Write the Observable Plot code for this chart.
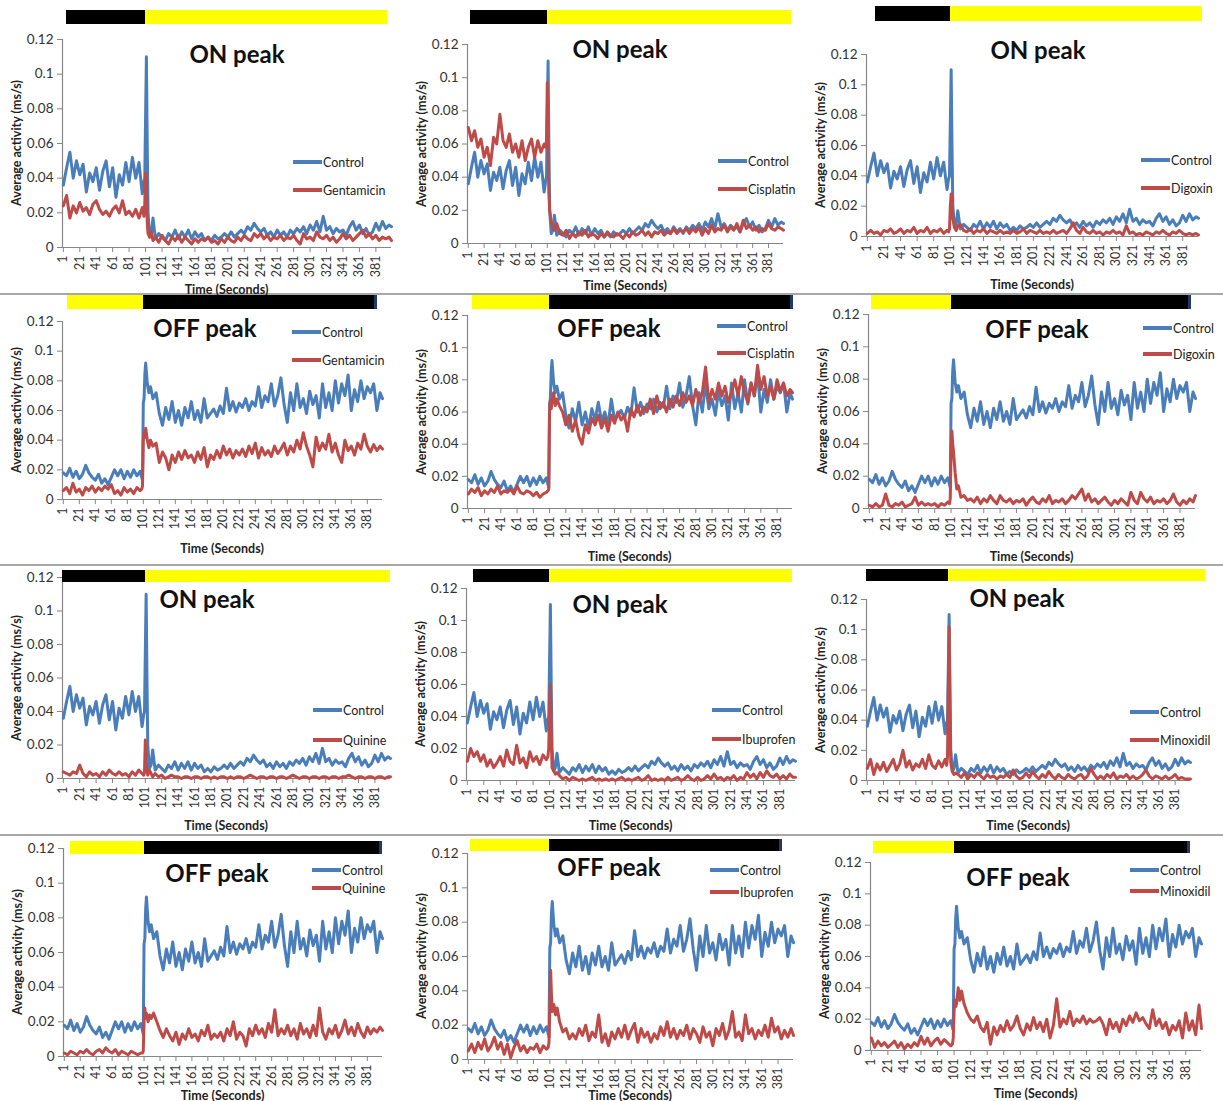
<!DOCTYPE html>
<html>
<head>
<meta charset="utf-8">
<script src="https://cdn.jsdelivr.net/npm/d3@7"></script>
<script src="https://cdn.jsdelivr.net/npm/@observablehq/plot@0.6"></script>
<style>
  html, body { margin: 0; padding: 0; background: #fff; }
  #root { position: relative; width: 1223px; height: 1101px; overflow: hidden; font-family: Lato, "Open Sans", "DejaVu Sans", sans-serif; }
  .abs { position: absolute; }
  .title { font-weight: 700; font-size: 24px; color: #111; transform: translate(-50%, -50%); white-space: nowrap; }
  .ylab { font-weight: 700; font-size: 12.5px; color: #222; transform: translate(-50%, -50%) rotate(-90deg); white-space: nowrap; }
  .xlab { font-weight: 700; font-size: 12.5px; color: #222; transform: translate(-50%, -50%); white-space: nowrap; }
  .legtext { font-size: 12.5px; color: #222; transform: translateY(-50%); white-space: nowrap; }
  .sep { left: 0; width: 1223px; height: 2px; background: #a8a8a8; }
  #root svg g[aria-label="x-axis tick label"] { font-size: 12.5px; }
  #root svg g[aria-label="y-axis tick label"] { font-size: 13.5px; }
</style>
</head>
<body>
<div id="root"></div>
<script>
// ---------------- DATA (seconds, average activity in ms/s) ----------------
const times = [
  1,5,9,13,17,21,25,29,33,37,41,45,49,53,57,61,65,69,73,77,81,85,89,93,97,
  99,100,101,102,103,104,106,108,110,
  113,117,121,125,129,133,137,141,145,149,
  153,157,161,165,169,173,177,181,185,189,
  193,197,201,205,209,213,217,221,225,229,
  233,237,241,245,249,253,257,261,265,269,
  273,277,281,285,289,293,297,301,305,309,
  313,317,321,325,329,333,337,341,345,349,
  353,357,361,365,369,373,377,381,385,389,
  393,397,400
];

const controlOn = [
  .036,.046,.055,.040,.050,.042,.048,.032,.043,.038,.046,.033,.044,.050,.035,.046,.029,.042,.036,.049,.038,.052,.040,.049,.031,
  .038,.040,.075,.110,.060,.020,.006,.008,.017,
  .005,.008,.006,.004,.008,.006,.010,.005,.009,.006,
  .010,.005,.009,.006,.008,.004,.006,.004,.007,.005,
  .006,.008,.006,.009,.006,.008,.010,.008,.012,.010,
  .014,.011,.009,.011,.007,.009,.006,.010,.007,.009,
  .006,.010,.008,.011,.009,.012,.008,.013,.010,.015,
  .009,.018,.010,.012,.008,.011,.009,.010,.007,.012,
  .015,.010,.013,.008,.011,.007,.009,.014,.010,.015,
  .011,.013,.012
];

const controlOff = [
  .018,.016,.021,.015,.019,.014,.017,.023,.018,.015,.013,.017,.011,.014,.010,.015,.020,.016,.020,.014,.019,.015,.020,.016,.019,
  .015,.013,.065,.068,.085,.092,.078,.072,.076,
  .068,.072,.058,.050,.062,.054,.066,.052,.060,.050,
  .062,.055,.066,.054,.060,.052,.068,.055,.058,.061,
  .056,.063,.058,.075,.060,.066,.059,.065,.062,.068,
  .060,.066,.063,.076,.062,.070,.066,.078,.063,.070,
  .082,.064,.052,.072,.060,.078,.062,.068,.058,.073,
  .064,.070,.055,.078,.062,.072,.060,.080,.065,.078,
  .070,.084,.060,.074,.066,.080,.068,.076,.072,.078,
  .060,.072,.068
];

const gentamicinOn = [
  .024,.030,.017,.024,.020,.026,.021,.023,.019,.025,.027,.022,.019,.021,.018,.022,.024,.020,.027,.019,.021,.018,.022,.017,.023,
  .018,.025,.043,.035,.015,.008,.006,.009,.004,
  .006,.003,.007,.004,.002,.006,.004,.007,.003,.006,
  .004,.002,.005,.003,.005,.004,.006,.003,.004,.002,
  .005,.003,.006,.004,.003,.006,.004,.007,.005,.004,
  .008,.006,.008,.005,.007,.004,.006,.005,.007,.004,
  .006,.005,.007,.004,.002,.008,.005,.006,.004,.009,
  .006,.005,.007,.004,.006,.003,.005,.008,.005,.007,
  .004,.006,.008,.010,.006,.008,.005,.007,.004,.006,
  .005,.006,.004
];

const cisplatinOn = [
  .070,.062,.068,.058,.063,.052,.058,.047,.064,.060,.078,.062,.058,.066,.055,.060,.052,.062,.050,.058,.063,.052,.062,.055,.060,
  .058,.062,.097,.060,.030,.020,.013,.010,.008,
  .012,.006,.005,.008,.003,.006,.004,.007,.005,.008,
  .004,.006,.005,.003,.006,.004,.007,.005,.004,.006,
  .005,.003,.006,.004,.007,.005,.006,.008,.005,.007,
  .004,.007,.006,.008,.005,.007,.006,.009,.006,.008,
  .007,.009,.006,.009,.007,.010,.005,.009,.006,.011,
  .007,.009,.008,.011,.007,.010,.008,.012,.007,.014,
  .009,.011,.008,.010,.007,.009,.008,.012,.009,.008,
  .010,.009,.008
];

const digoxinOn = [
  .002,.004,.002,.003,.001,.004,.003,.005,.002,.003,.005,.002,.004,.003,.006,.002,.004,.003,.006,.002,.004,.003,.005,.002,.004,
  .003,.005,.020,.028,.026,.012,.006,.004,.007,
  .008,.004,.003,.005,.002,.004,.003,.005,.002,.004,
  .003,.002,.004,.002,.003,.002,.004,.002,.003,.005,
  .002,.004,.003,.002,.004,.002,.003,.002,.004,.002,
  .003,.004,.002,.005,.009,.004,.002,.006,.003,.002,
  .004,.002,.003,.001,.003,.002,.004,.002,.003,.001,
  .007,.002,.003,.001,.002,.001,.003,.002,.001,.003,
  .002,.004,.002,.001,.003,.002,.004,.002,.001,.002,
  .001,.002,.001
];

const quinineOn = [
  .004,.003,.002,.004,.003,.008,.003,.001,.004,.002,.003,.001,.004,.002,.005,.003,.002,.004,.002,.003,.001,.004,.002,.005,.003,
  .002,.004,.023,.012,.004,.002,.005,.003,.001,
  .003,.001,.002,.000,.001,.002,.001,.001,.000,.001,
  .001,.000,.001,.001,.000,.001,.001,.000,.001,.000,
  .001,.001,.000,.001,.000,.001,.001,.000,.001,.002,
  .001,.000,.001,.001,.000,.001,.001,.000,.001,.001,
  .000,.001,.002,.001,.000,.001,.001,.000,.001,.001,
  .000,.001,.001,.000,.001,.001,.000,.001,.001,.002,
  .001,.000,.001,.001,.000,.001,.001,.000,.001,.001,
  .000,.001,.001
];

const ibuprofenOn = [
  .012,.020,.015,.018,.012,.016,.009,.013,.008,.011,.015,.009,.019,.012,.010,.022,.011,.014,.008,.018,.012,.015,.010,.016,.013,
  .015,.020,.045,.060,.030,.008,.006,.004,.005,
  .003,.001,.002,.000,.002,.001,.000,.001,.000,.001,
  .002,.000,.001,.000,.001,.000,.001,.000,.001,.002,
  .000,.001,.000,.001,.002,.000,.001,.003,.000,.001,
  .000,.001,.000,.002,.000,.001,.002,.000,.001,.003,
  .001,.000,.002,.000,.001,.003,.001,.004,.001,.002,
  .000,.002,.001,.003,.000,.002,.001,.005,.002,.004,
  .001,.005,.002,.006,.003,.002,.004,.001,.003,.001,
  .004,.002,.002
];

const minoxidilOn = [
  .008,.014,.004,.011,.007,.012,.006,.010,.014,.007,.011,.020,.009,.013,.007,.011,.009,.014,.008,.017,.010,.008,.013,.009,.014,
  .010,.016,.060,.102,.050,.012,.006,.004,.005,
  .004,.002,.005,.001,.004,.002,.005,.003,.001,.004,
  .002,.003,.001,.003,.002,.004,.002,.007,.003,.001,
  .002,.005,.002,.006,.003,.001,.004,.002,.006,.003,
  .001,.004,.002,.001,.004,.002,.001,.003,.004,.001,
  .003,.008,.004,.001,.003,.001,.004,.002,.005,.001,
  .003,.002,.004,.001,.003,.001,.002,.004,.007,.003,
  .001,.003,.002,.001,.003,.001,.002,.004,.001,.002,
  .001,.001,.001
];

const gentamicinOff = [
  .006,.008,.004,.011,.005,.007,.003,.008,.006,.009,.005,.008,.006,.009,.007,.010,.004,.006,.003,.008,.005,.007,.004,.008,.006,
  .007,.009,.040,.045,.042,.048,.040,.035,.040,
  .036,.038,.025,.032,.028,.020,.030,.025,.032,.027,
  .033,.028,.030,.025,.032,.027,.035,.022,.030,.027,
  .033,.028,.036,.030,.034,.028,.033,.030,.034,.029,
  .036,.031,.038,.028,.035,.030,.033,.029,.036,.031,
  .034,.038,.030,.036,.032,.040,.034,.045,.036,.030,
  .022,.042,.033,.038,.034,.044,.032,.038,.030,.025,
  .040,.033,.036,.030,.038,.034,.044,.036,.032,.037,
  .033,.036,.034
];

const cisplatinOff = [
  .009,.012,.010,.013,.008,.011,.009,.012,.010,.014,.009,.011,.010,.012,.009,.014,.010,.009,.011,.010,.008,.010,.007,.009,.010,
  .011,.012,.060,.068,.062,.066,.072,.064,.068,
  .064,.060,.052,.058,.048,.055,.045,.040,.052,.047,
  .056,.052,.058,.050,.056,.048,.058,.053,.060,.055,
  .058,.048,.062,.057,.064,.058,.063,.060,.068,.059,
  .070,.062,.066,.060,.068,.063,.070,.064,.072,.066,
  .070,.064,.074,.066,.072,.088,.066,.074,.068,.078,
  .070,.076,.066,.072,.080,.070,.082,.072,.066,.078,
  .070,.089,.074,.082,.070,.076,.068,.080,.073,.078,
  .070,.074,.072
];

const digoxinOff = [
  .002,.001,.003,.001,.002,.009,.002,.001,.003,.002,.004,.001,.002,.003,.007,.002,.004,.002,.003,.002,.003,.001,.003,.002,.004,
  .003,.006,.035,.048,.040,.035,.022,.012,.014,
  .007,.008,.005,.006,.004,.007,.003,.006,.004,.008,
  .005,.003,.008,.005,.004,.006,.003,.005,.004,.006,
  .002,.005,.007,.004,.003,.006,.004,.008,.003,.005,
  .004,.006,.003,.005,.008,.006,.009,.012,.005,.009,
  .004,.006,.003,.005,.007,.004,.002,.005,.003,.006,
  .004,.002,.010,.005,.003,.010,.006,.004,.007,.003,
  .005,.004,.006,.003,.005,.009,.004,.002,.005,.003,
  .006,.004,.008
];

const quinineOff = [
  .002,.001,.003,.002,.001,.003,.002,.004,.002,.001,.003,.004,.002,.005,.003,.002,.004,.001,.003,.002,.001,.003,.002,.001,.002,
  .002,.003,.020,.028,.022,.025,.020,.024,.022,
  .025,.020,.015,.011,.016,.012,.009,.014,.007,.013,
  .010,.016,.011,.013,.009,.015,.012,.018,.010,.013,
  .011,.014,.009,.016,.012,.020,.010,.014,.012,.006,
  .016,.012,.018,.013,.016,.011,.019,.014,.027,.012,
  .016,.013,.018,.012,.016,.010,.019,.013,.016,.011,
  .018,.012,.028,.014,.010,.016,.013,.018,.011,.015,
  .021,.013,.017,.012,.019,.014,.011,.017,.013,.016,
  .014,.017,.015
];

const ibuprofenOff = [
  .005,.009,.004,.010,.006,.012,.005,.008,.013,.006,.010,.003,.009,.001,.007,.011,.005,.008,.004,.007,.006,.009,.004,.008,.006,
  .007,.010,.030,.052,.038,.028,.032,.026,.030,
  .022,.016,.018,.012,.015,.012,.018,.014,.020,.011,
  .016,.013,.026,.010,.015,.008,.016,.012,.018,.013,
  .020,.012,.017,.021,.010,.018,.013,.016,.010,.015,
  .012,.019,.014,.022,.013,.018,.012,.017,.014,.020,
  .012,.018,.015,.010,.019,.013,.016,.008,.018,.014,
  .021,.012,.017,.028,.013,.016,.011,.026,.015,.018,
  .012,.017,.014,.020,.013,.024,.016,.019,.012,.017,
  .013,.018,.014
];

const minoxidilOff = [
  .008,.002,.006,.003,.005,.002,.004,.006,.002,.005,.001,.004,.002,.005,.003,.009,.004,.008,.003,.006,.008,.004,.007,.005,.003,
  .004,.008,.025,.032,.028,.030,.040,.032,.038,
  .030,.024,.020,.018,.022,.015,.012,.018,.004,.015,
  .010,.016,.012,.019,.013,.016,.022,.014,.010,.017,
  .013,.021,.014,.018,.012,.020,.008,.016,.033,.015,
  .020,.017,.025,.016,.020,.018,.022,.017,.020,.018,
  .019,.021,.017,.010,.020,.014,.018,.012,.020,.016,
  .022,.018,.024,.019,.021,.017,.014,.026,.016,.020,
  .014,.018,.010,.016,.013,.019,.008,.024,.013,.019,
  .010,.029,.014
];

const xTicks = [1,21,41,61,81,101,121,141,161,181,201,221,241,261,281,301,321,341,361,381];
const yTicks = [0, 0.02, 0.04, 0.06, 0.08, 0.1, 0.12];
const xDomain = [0, 400];
const yDomain = [0, 0.12];
const lightSwitch = 101;           // second at which the light phase changes
const peakTitles = {on: "ON peak", off: "OFF peak"};
const yLabel = "Average activity (ms/s)";
const xLabel = "Time (Seconds)";
const controlName = "Control";

const drugSeries = {
  Gentamicin: {on: gentamicinOn, off: gentamicinOff},
  Cisplatin:  {on: cisplatinOn,  off: cisplatinOff},
  Digoxin:    {on: digoxinOn,    off: digoxinOff},
  Quinine:    {on: quinineOn,    off: quinineOff},
  Ibuprofen:  {on: ibuprofenOn,  off: ibuprofenOff},
  Minoxidil:  {on: minoxidilOn,  off: minoxidilOff}
};
const controlSeries = {on: controlOn, off: controlOff};

for (const [k, a] of Object.entries({controlOn, controlOff, gentamicinOn, cisplatinOn, digoxinOn, quinineOn, ibuprofenOn, minoxidilOn,
  gentamicinOff, cisplatinOff, digoxinOff, quinineOff, ibuprofenOff, minoxidilOff})) {
  if (a.length !== times.length) throw new Error(k + " has " + a.length + " values, expected " + times.length);
}

// ---------------- STYLE / LAYOUT ----------------
const BLUE = "#4a7ebb", RED = "#be4b48", AXIS = "#868686", TEXT = "#333";
const DARK = "#000000", LIGHT = "#ffff00";
const M = {l: 58, r: 12, t: 6, b: 34};

// frame: [x of y-axis, right end of x-axis, y of 0.12, y of 0]; bar: [left, right, top, height]
const panels = [
  {drug: "Gentamicin", peak: "on",  frame: [62, 391, 39, 247],    bar: [66, 387, 10, 14],   title: [237, 53],   legend: [293, 162, 190], xLabelY: 289},
  {drug: "Cisplatin",  peak: "on",  frame: [467, 783, 44, 243],   bar: [470, 791, 10, 14],  title: [620, 48],   legend: [718, 161, 189], xLabelY: 285},
  {drug: "Digoxin",    peak: "on",  frame: [866, 1198, 54, 236],  bar: [875, 1202, 6, 15],  title: [1038, 49],  legend: [1141, 160, 188], xLabelY: 284},
  {drug: "Gentamicin", peak: "off", frame: [62, 382, 321, 499],   bar: [67, 377, 295, 14],  title: [205, 327],  legend: [292, 332, 360], xLabelY: 548},
  {drug: "Cisplatin",  peak: "off", frame: [467, 792, 315, 508],  bar: [472, 793, 295, 14], title: [609, 327],  legend: [717, 326, 353], xLabelY: 556},
  {drug: "Digoxin",    peak: "off", frame: [868, 1195, 314, 508], bar: [871, 1191, 295, 14], title: [1037, 328], legend: [1143, 328, 354], xLabelY: 556},
  {drug: "Quinine",    peak: "on",  frame: [62, 390, 577, 778],   bar: [62, 390, 570, 12],  title: [207, 598],  legend: [313, 710, 740], xLabelY: 825},
  {drug: "Ibuprofen",  peak: "on",  frame: [466, 795, 588, 780],  bar: [473, 792, 569, 13], title: [620, 603],  legend: [712, 710, 739], xLabelY: 825},
  {drug: "Minoxidil",  peak: "on",  frame: [866, 1190, 599, 780], bar: [866, 1205, 569, 12], title: [1017, 597], legend: [1130, 712, 740], xLabelY: 825},
  {drug: "Quinine",    peak: "off", frame: [63, 382, 848, 1056],  bar: [70, 382, 841, 13],  title: [217, 872],  legend: [312, 870, 888], xLabelY: 1095},
  {drug: "Ibuprofen",  peak: "off", frame: [467, 793, 853, 1059], bar: [470, 782, 839, 12], title: [609, 866],  legend: [710, 870, 892], xLabelY: 1095},
  {drug: "Minoxidil",  peak: "off", frame: [870, 1201, 862, 1050], bar: [873, 1190, 841, 12], title: [1018, 876], legend: [1130, 870, 891], xLabelY: 1093}
];
const separators = [294, 565, 835];

// ---------------- RENDER ----------------
const root = document.getElementById("root");
function el(cls, css, text) {
  const d = document.createElement("div");
  d.className = "abs " + cls;
  Object.assign(d.style, css);
  if (text != null) d.textContent = text;
  root.appendChild(d);
  return d;
}

separators.forEach(y => el("sep", {top: (y - 1) + "px"}));

panels.forEach(p => {
  const [x0, x1, yT, yB] = p.frame;
  const ctrlRows = times.map((t, i) => ({t, v: controlSeries[p.peak][i]}));
  const drugRows = times.map((t, i) => ({t, v: drugSeries[p.drug][p.peak][i]}));
  const chart = Plot.plot({
    width: x1 - x0 + M.l + M.r,
    height: yB - yT + M.t + M.b,
    marginLeft: M.l, marginRight: M.r, marginTop: M.t, marginBottom: M.b,
    style: {background: "transparent", overflow: "visible", fontFamily: "Lato, 'Open Sans', sans-serif"},
    x: {domain: xDomain},
    y: {domain: yDomain},
    marks: [
      Plot.axisX(xTicks, {anchor: "bottom", tickRotate: -90, tickSize: 5, tickPadding: 3, fontSize: 12.5, stroke: AXIS, fill: TEXT, label: null}),
      Plot.axisY(yTicks, {anchor: "left", tickSize: 5, tickPadding: 4, fontSize: 13.5, stroke: AXIS, fill: TEXT, label: null, tickFormat: d => String(d)}),
      Plot.ruleY([yDomain[0]], {stroke: AXIS, strokeWidth: 1.2}),
      Plot.ruleX([xDomain[0]], {stroke: AXIS, strokeWidth: 1.2}),
      Plot.line(ctrlRows, {x: "t", y: "v", stroke: BLUE, strokeWidth: 3, strokeLinejoin: "round"}),
      Plot.line(drugRows, {x: "t", y: "v", stroke: RED, strokeWidth: 3, strokeLinejoin: "round"})
    ]
  });
  const left = x0 - M.l, top = yT - M.t;
  chart.style.position = "absolute";
  chart.style.left = left + "px";
  chart.style.top = top + "px";
  root.appendChild(chart);

  // light/dark phase bar
  const xs = chart.scale("x");
  const split = left + xs.apply(lightSwitch);
  const [bx0, bx1, by, bh] = p.bar;
  const first = p.peak === "on" ? DARK : LIGHT, second = p.peak === "on" ? LIGHT : DARK;
  el("", {left: bx0 + "px", top: by + "px", width: (split - bx0) + "px", height: bh + "px", background: first});
  const b2 = el("", {left: split + "px", top: by + "px", width: (bx1 - split) + "px", height: bh + "px", background: second, boxSizing: "border-box"});
  if (p.peak === "off") b2.style.borderRight = "3px solid #1f3a6a";

  el("title", {left: p.title[0] + "px", top: p.title[1] + "px"}, peakTitles[p.peak]);
  el("ylab", {left: (x0 - 46) + "px", top: ((yT + yB) / 2) + "px"}, yLabel);
  el("xlab", {left: ((x0 + x1) / 2) + "px", top: p.xLabelY + "px"}, xLabel);
  const [lx, ly1, ly2] = p.legend;
  [[ly1, controlName, BLUE], [ly2, p.drug, RED]].forEach(([y, name, c]) => {
    el("", {left: lx + "px", top: (y - 2) + "px", width: "29px", height: "4px", background: c});
    el("legtext", {left: (lx + 30) + "px", top: y + "px"}, name);
  });
});
</script>
</body>
</html>
